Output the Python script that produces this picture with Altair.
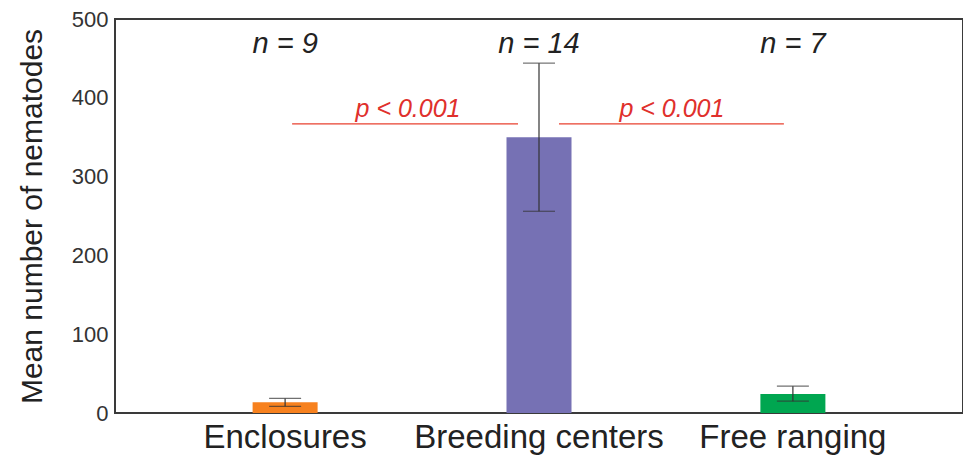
import altair as alt
import pandas as pd

categories = ["Enclosures", "Breeding centers", "Free ranging"]
means = [13.5, 350, 24]
err_low = [8.5, 256, 15]
err_high = [18.5, 444, 34]
n_labels = ["n = 9", "n = 14", "n = 7"]
bar_colors = ["#F7811E", "#7671B4", "#00A650"]

sig_from = ["Enclosures", "Breeding centers"]
sig_to = ["Breeding centers", "Free ranging"]
sig_text = ["p < 0.001", "p < 0.001"]
sig_level = [367, 367]
n_level = 468

FONT = "Liberation Sans"

df = pd.DataFrame({
    "category": categories,
    "mean": means,
    "low": err_low,
    "high": err_high,
    "n": n_labels,
    "nlev": [n_level] * len(categories),
})
sig = pd.DataFrame({"category": sig_from, "to": sig_to, "label": sig_text, "lev": sig_level})

xscale = alt.Scale(domain=categories, paddingInner=0, paddingOuter=0.17)
x_enc = alt.X(
    "category:N",
    scale=xscale,
    title=None,
    axis=alt.Axis(labelFontSize=33, labelFont=FONT, labelColor="#222222", labelPadding=8,
                  labelLimit=0, ticks=False, domain=False, labelAngle=0),
)
yscale = alt.Scale(domain=[0, 500], nice=False)
y_enc = alt.Y(
    "mean:Q",
    scale=yscale,
    title="Mean number of nematodes",
    axis=alt.Axis(values=[0, 100, 200, 300, 400, 500], grid=False, ticks=False, domain=False,
                  labelFontSize=22, labelFont=FONT, labelColor="#333333", labelPadding=7,
                  titleFontSize=30, titleFont=FONT, titleFontWeight="normal", titleColor="#222222",
                  titlePadding=24),
)

bars = alt.Chart(df).mark_bar(size=65).encode(
    x=x_enc,
    y=y_enc,
    color=alt.Color("category:N", scale=alt.Scale(domain=categories, range=bar_colors), legend=None),
)

err = alt.Chart(df).mark_rule(color="#333333", strokeWidth=1.2).encode(
    x=alt.X("category:N", scale=xscale),
    y=alt.Y("low:Q", scale=yscale),
    y2="high:Q",
)
cap_hi = alt.Chart(df).mark_tick(color="#333333", thickness=1.2, size=32, orient="horizontal").encode(
    x=alt.X("category:N", scale=xscale),
    y=alt.Y("high:Q", scale=yscale),
)
cap_lo = alt.Chart(df).mark_tick(color="#333333", thickness=1.2, size=32, orient="horizontal").encode(
    x=alt.X("category:N", scale=xscale),
    y=alt.Y("low:Q", scale=yscale),
)

ntext = alt.Chart(df).mark_text(fontSize=29, font=FONT, fontStyle="italic", color="#222222",
                                baseline="middle").encode(
    x=alt.X("category:N", scale=xscale),
    y=alt.Y("nlev:Q", scale=yscale),
    text="n:N",
)

def sig_layer(i, x_off, x2_off, text_dx):
    d = sig.iloc[[i]]
    rule = alt.Chart(d).mark_rule(color="#E8402F", strokeWidth=1.3, xOffset=x_off, x2Offset=x2_off).encode(
        x=alt.X("category:N", scale=xscale),
        x2="to:N",
        y=alt.Y("lev:Q", scale=yscale),
    )
    txt = alt.Chart(d).mark_text(fontSize=25, font=FONT, fontStyle="italic", color="#E0302C",
                                 baseline="alphabetic", dx=text_dx, dy=-7).encode(
        x=alt.X("category:N", scale=xscale, bandPosition=1),
        y=alt.Y("lev:Q", scale=yscale),
        text="label:N",
    )
    return rule + txt

chart = alt.layer(
    bars, err, cap_hi, cap_lo, ntext,
    sig_layer(0, 7, -21, -4),
    sig_layer(1, 20, -9, 6),
).properties(
    width=848,
    height=394,
    background="white",
    autosize=alt.AutoSizeParams(type="none"),
    padding={"left": 107, "top": 11, "right": 0, "bottom": 45},
).configure_view(
    stroke="#3a3a3a", strokeWidth=2
)

chart.save("out.html", embed_options={"renderer": "svg", "actions": False})
